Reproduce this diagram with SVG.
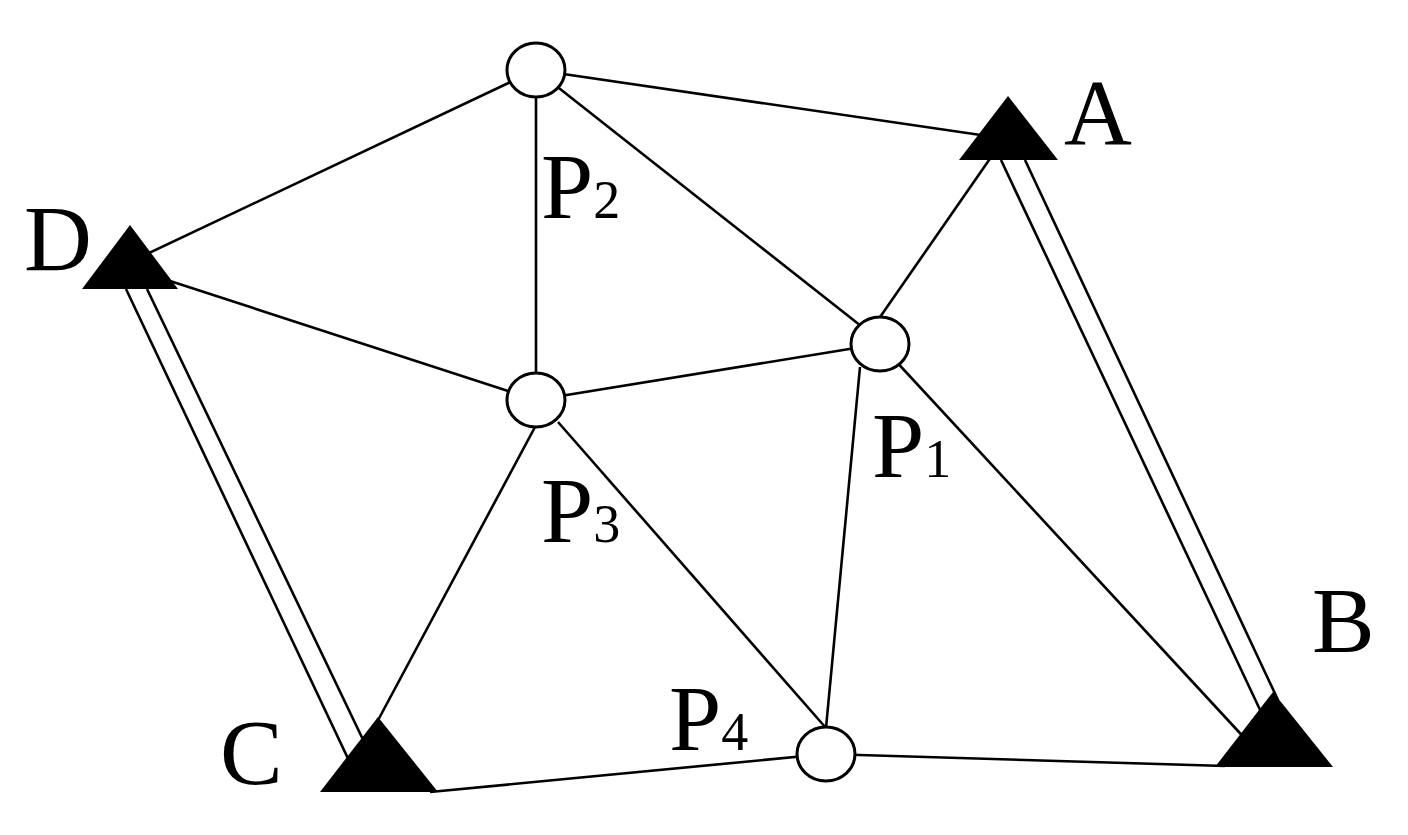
<svg xmlns="http://www.w3.org/2000/svg" width="1408" height="835" viewBox="0 0 1408 835">
<style>
.e{stroke:#000;stroke-width:2.6;fill:none;stroke-linecap:butt}
.pt{fill:#fff;stroke:#000;stroke-width:3}
.tri{fill:#000;stroke:none}
.lbl{font-family:"Liberation Serif","Times New Roman",serif;font-size:94px;fill:#000}
.sub{font-size:54px}
</style>
<rect width="1408" height="835" fill="#fff"/>
<g id="connectors">
<line class="e" x1="536" y1="70" x2="1008" y2="139"/>
<line class="e" x1="536" y1="70" x2="130" y2="262"/>
<line class="e" x1="536" y1="70" x2="536" y2="400"/>
<line class="e" x1="536" y1="70" x2="875" y2="337"/>
<line class="e" x1="878" y1="320" x2="996" y2="150"/>
<line class="e" x1="1001" y1="160" x2="1262" y2="714"/>
<line class="e" x1="1025" y1="160" x2="1278" y2="700"/>
<line class="e" x1="126" y1="289" x2="352" y2="767"/>
<line class="e" x1="147" y1="289" x2="368" y2="750"/>
<line class="e" x1="130" y1="268" x2="536" y2="400"/>
<line class="e" x1="536" y1="400" x2="880" y2="344"/>
<line class="e" x1="535" y1="427" x2="376" y2="724"/>
<line class="e" x1="558" y1="422" x2="826" y2="728"/>
<line class="e" x1="860" y1="367" x2="826" y2="728"/>
<line class="e" x1="880" y1="344" x2="1250" y2="744"/>
<line class="e" x1="826" y1="754" x2="1225" y2="766"/>
<line class="e" x1="430" y1="792" x2="826" y2="754"/>
</g>
<g id="A"><polygon class="tri" points="1008,96 959,160 1058,160"/><text class="lbl" x="1064" y="144">A</text></g>
<g id="B"><polygon class="tri" points="1273,692 1215,767 1333,767"/><text class="lbl" x="1312" y="652">B</text></g>
<g id="C"><polygon class="tri" points="378,717 320,792 438,792"/><text class="lbl" x="220" y="784">C</text></g>
<g id="D"><polygon class="tri" points="130,225 82,289 178,289"/><text class="lbl" x="24" y="270">D</text></g>
<g id="P1"><ellipse class="pt" cx="880" cy="344" rx="29" ry="27"/><text class="lbl" x="872" y="477">P<tspan class="sub">1</tspan></text></g>
<g id="P2"><ellipse class="pt" cx="536" cy="70" rx="29" ry="27"/><text class="lbl" x="541" y="218">P<tspan class="sub">2</tspan></text></g>
<g id="P3"><ellipse class="pt" cx="536" cy="400" rx="29" ry="27"/><text class="lbl" x="541" y="542">P<tspan class="sub">3</tspan></text></g>
<g id="P4"><ellipse class="pt" cx="826" cy="754" rx="29" ry="27"/><text class="lbl" x="669" y="750">P<tspan class="sub">4</tspan></text></g>
</svg>
